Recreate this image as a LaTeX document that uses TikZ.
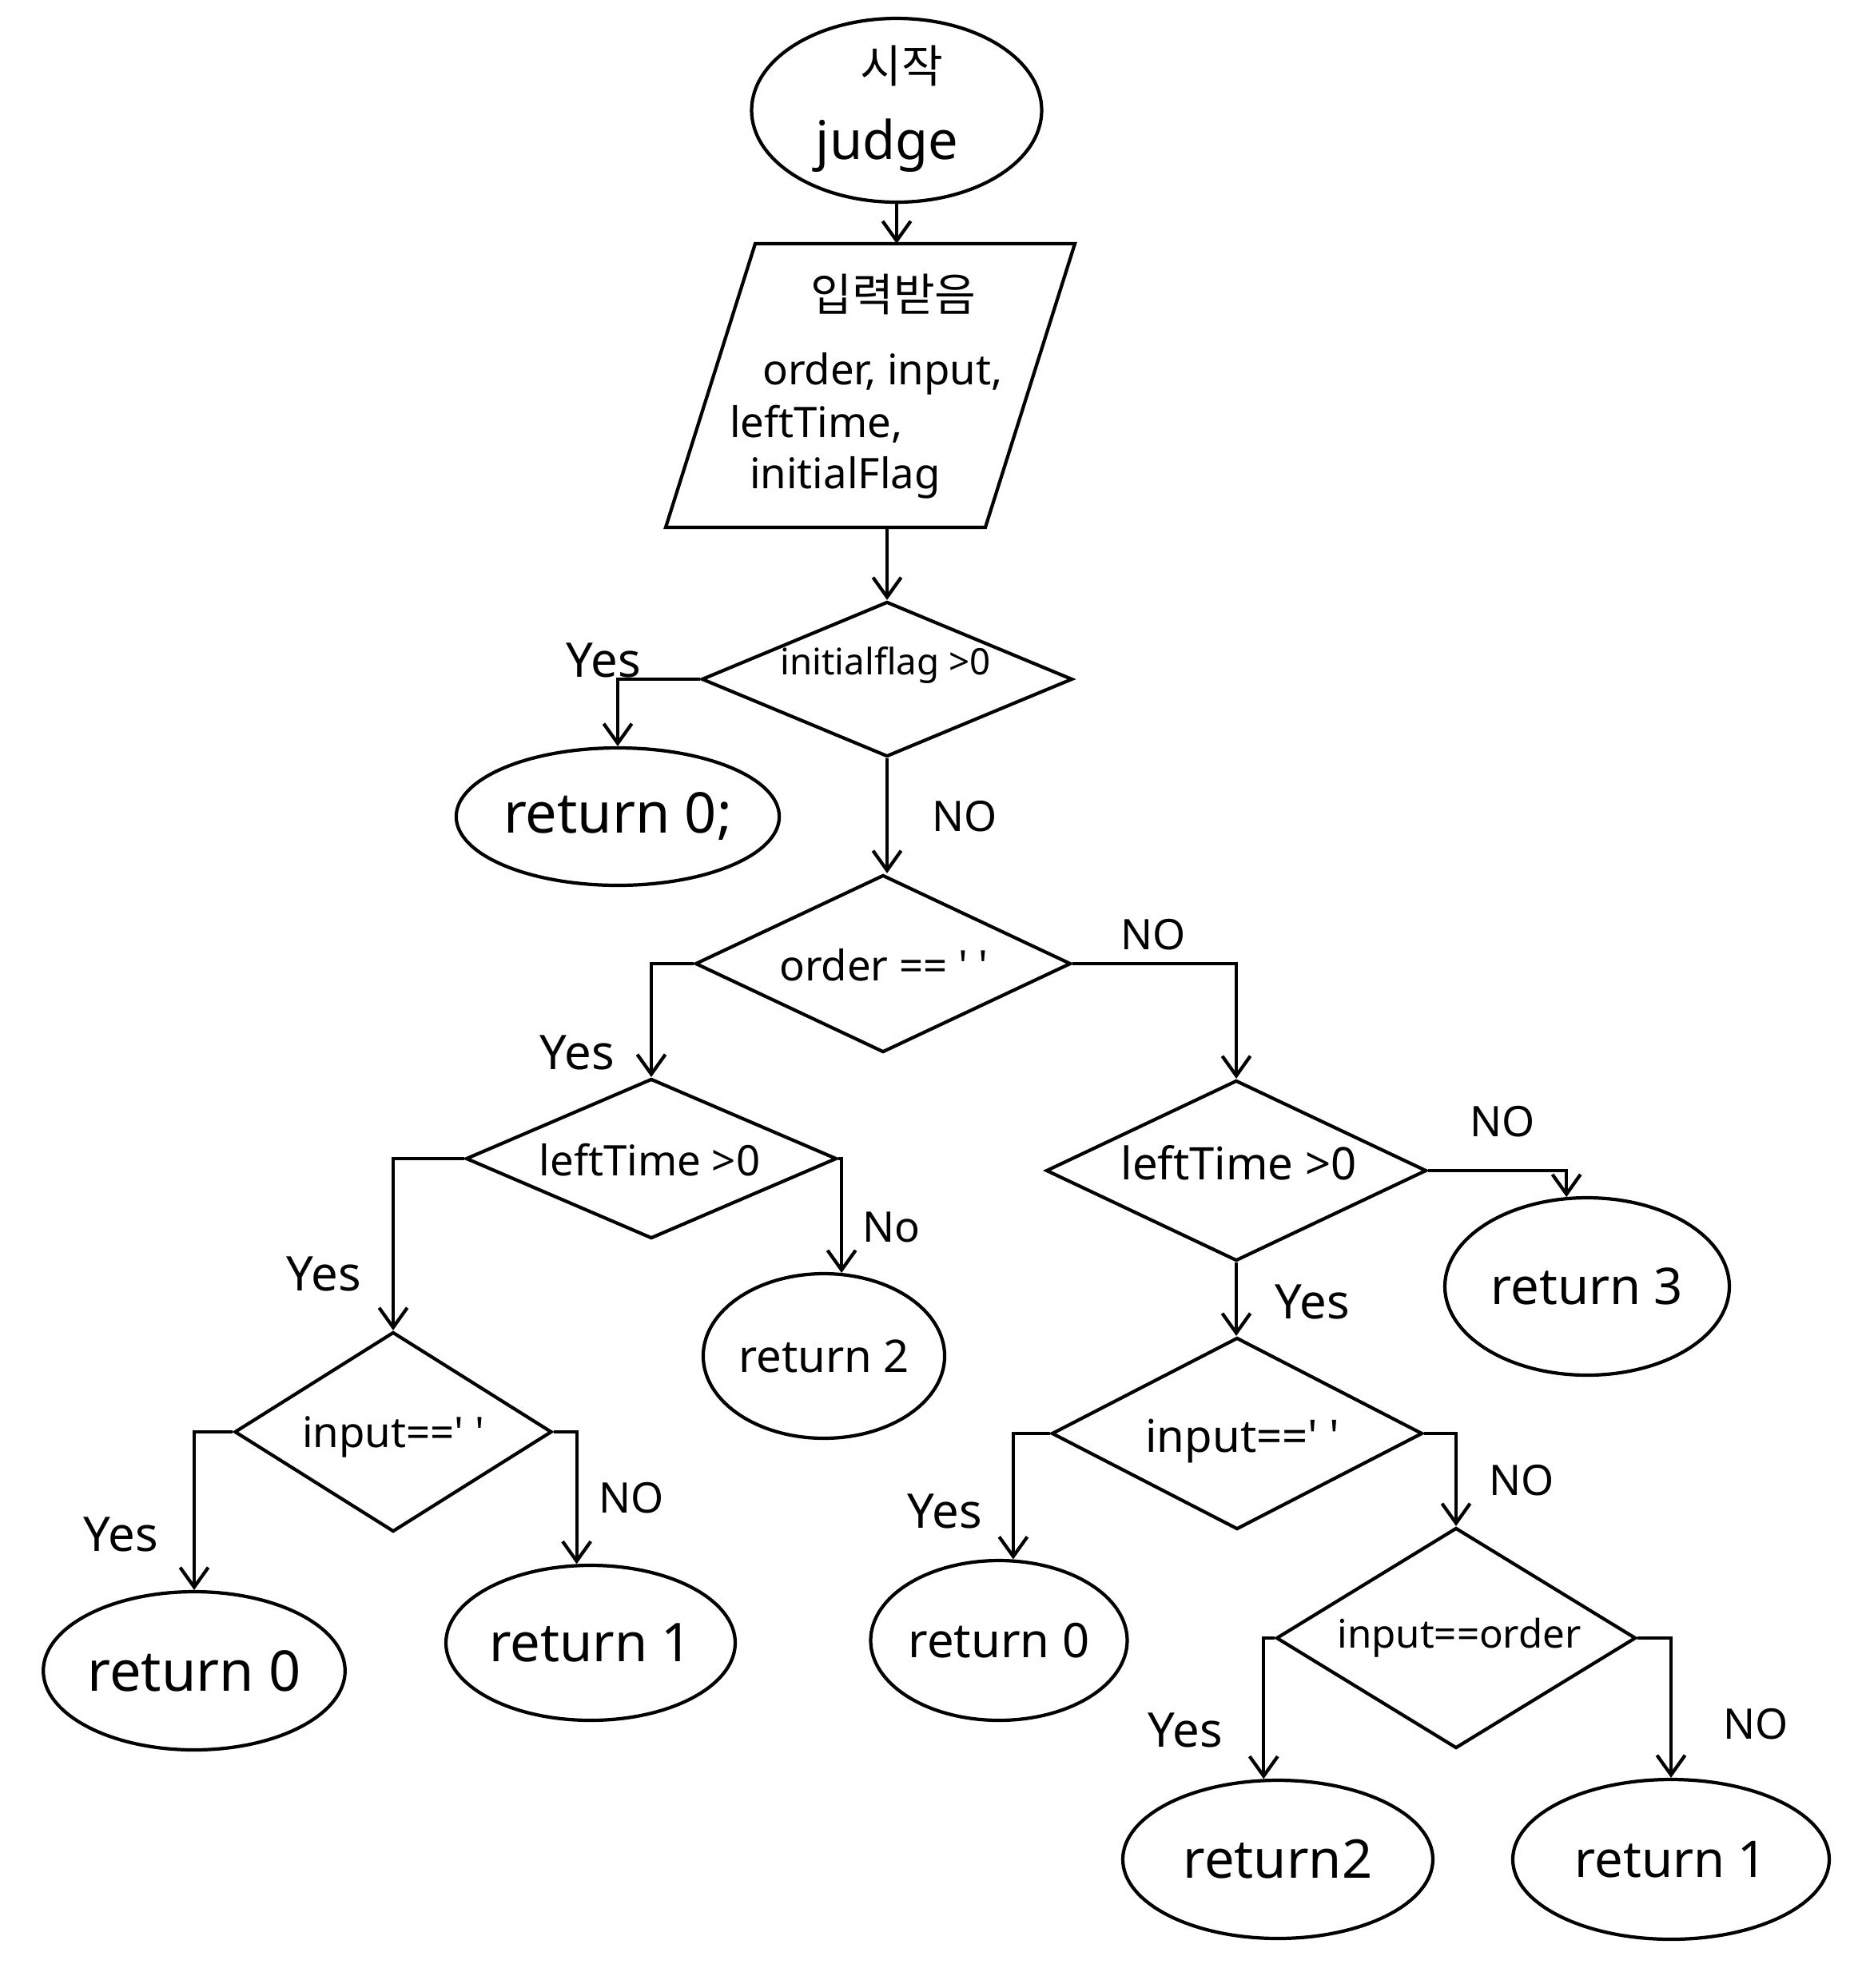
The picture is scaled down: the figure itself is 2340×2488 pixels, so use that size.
\documentclass[tikz,border=0pt]{standalone}
\usepackage{fontspec}
\setmainfont{Noto Sans}
\newfontfamily\krfont{Noto Sans CJK KR}
\usetikzlibrary{shapes.geometric,arrows.meta,calc}
\newcommand\fsz[1]{\fontsize{#1}{#1}\selectfont}
\newcommand\sq{\textquotesingle}

\begin{document}
\begin{tikzpicture}[x=0.1mm,y=-0.1mm,
  line width=1.2pt,
  term/.style={draw, ellipse, inner sep=0pt},
  decision/.style={draw, diamond, inner sep=0pt},
  arr/.style={-{Straight Barb[length=7pt,width=10pt]}},
  lbl/.style={inner sep=0pt},
  yes/.style={lbl, font=\fsz{17}},
  no/.style={lbl, font=\fsz{15}},
  dtext/.style={lbl, font=\fsz{14}},
]
\useasboundingbox (0,0) rectangle (2340,2488);

% start terminal
\node[term, minimum width=36.3mm, minimum height=23mm] (start) at (1122,138) {};
\node[lbl, font=\krfont\fsz{16}] (startk) at (1128,82) {시작};
\node[lbl, font=\fsz{19}] (startj) at (1110,182) {judge};

% input parallelogram
\coordinate (pTL) at (945,305);
\coordinate (pTR) at (1345,305);
\coordinate (pBR) at (1233,660);
\coordinate (pBL) at (833,660);
\draw (pTL) -- (pTR) -- (pBR) -- (pBL) -- cycle;
\node[lbl, font=\krfont\fsz{16}] (inpk) at (1118,368) {입력받음};
\node[lbl, anchor=base west, font=\fsz{15}] (pl1) at (952,481) {order, input,};
\node[lbl, anchor=base west, font=\fsz{15}] (pl2) at (911,547) {leftTime,};
\node[lbl, anchor=base west, font=\fsz{15}] (pl3) at (936,611) {initialFlag};

% decisions
\node[decision, minimum width=46.4mm, minimum height=19.4mm] (d1) at (1110,850) {};
\node[dtext, font=\fsz{13}] (d1t) at (1108,832) {initialflag >0};
\node[decision, minimum width=47mm, minimum height=22.2mm] (d2) at (1105,1206) {};
\node[dtext, font=\fsz{15}] (d2t) at (1106,1208) {order == \sq\ \sq};
\node[decision, minimum width=46.4mm, minimum height=20mm] (d3) at (815,1450) {};
\node[dtext, font=\fsz{15}] (d3t) at (813,1452) {leftTime >0};
\node[decision, minimum width=47.6mm, minimum height=22.6mm] (d4) at (1547,1465) {};
\node[dtext, font=\fsz{16}] (d4t) at (1550,1455) {leftTime >0};
\node[decision, minimum width=39.7mm, minimum height=25mm] (d5) at (492,1792) {};
\node[dtext, font=\fsz{15}] (d5t) at (492,1798) {input==\sq\ \sq};
\node[decision, minimum width=46.4mm, minimum height=24mm] (d6) at (1548,1794) {};
\node[dtext, font=\fsz{16}] (d6t) at (1555,1803) {input==\sq\ \sq};
\node[decision, minimum width=45mm, minimum height=27.6mm] (d7) at (1822,2050) {};
\node[dtext] (d7t) at (1826,2050) {input==order};

% return terminals
\node[term, minimum width=39.6mm, minimum height=17.2mm, font=\fsz{20}] (r0a) at (773,1022) {return 0;};
\node[term, minimum width=29.2mm, minimum height=20.6mm, font=\fsz{16}] (r2a) at (1031,1697) {return 2};
\node[term, minimum width=35.6mm, minimum height=22.2mm, font=\fsz{18}] (r3) at (1986,1610) {return 3};
\node[term, minimum width=37.6mm, minimum height=19.8mm, font=\fsz{20}] (r0b) at (243,2091) {return 0};
\node[term, minimum width=36.2mm, minimum height=19.4mm, font=\fsz{19}] (r1a) at (739,2056) {return 1};
\node[term, minimum width=31.2mm, minimum height=20mm, font=\fsz{17}] (r0c) at (1250,2053) {return 0};
\node[term, minimum width=38.8mm, minimum height=19.8mm, font=\fsz{19}] (r2b) at (1599,2327) {return2};
\node[term, minimum width=39.6mm, minimum height=20mm, font=\fsz{18}] (r1b) at (2091,2327) {return 1};

% connectors
\draw[arr] (start.south) -- (start.south |- pTL);
\draw[arr] (d1.north |- pBL) -- (d1.north);
\draw[arr] (d1.west) -| (r0a.north);
\draw[arr] (d1.south) -- (d1.south |- d2.north);
\draw[arr] (d2.west) -| (d3.north);
\draw[arr] (d2.east) -| (d4.north);
\draw[arr] (d3.west) -| (d5.north);
\draw[arr] (d3.east) -| (r2a.78);
\draw[arr] (d4.east) -| (r3.103);
\draw[arr] (d4.south) -- (d4.south |- d6.north);
\draw[arr] (d5.west) -| (r0b.north);
\draw[arr] (d5.east) -| (r1a.100);
\draw[arr] (d6.west) -| (r0c.80);
\draw[arr] (d6.east) -| (d7.north);
\draw[arr] (d7.west) -| (r2b.100);
\draw[arr] (d7.east) -| (r1b.north);

% branch labels
\node[yes] (y1) at (755,826) {Yes};
\node[no]  (n1) at (1207,1022) {NO};
\node[yes] (y2) at (722,1317) {Yes};
\node[no]  (n2) at (1443,1170) {NO};
\node[yes] (y3) at (405,1594) {Yes};
\node[no]  (n3) at (1115,1536) {No};
\node[no]  (n4) at (1880,1404) {NO};
\node[yes] (y4) at (1642,1629) {Yes};
\node[yes] (y5) at (151,1920) {Yes};
\node[no]  (n5) at (790,1875) {NO};
\node[yes] (y6) at (1182,1891) {Yes};
\node[no]  (n6) at (1904,1853) {NO};
\node[yes] (y7) at (1483,2165) {Yes};
\node[no]  (n7) at (2197,2158) {NO};
\end{tikzpicture}
\end{document}
